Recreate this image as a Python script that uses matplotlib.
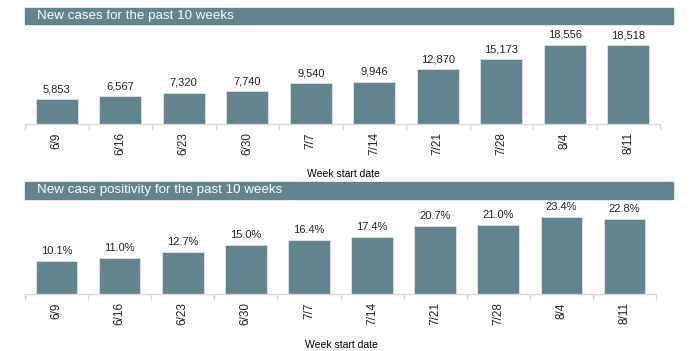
import numpy as np
import matplotlib.pyplot as plt
from matplotlib.patches import Rectangle

plt.rcParams['font.family'] = ['Liberation Sans', 'DejaVu Sans']

# --- data ---
weeks = ['6/9', '6/16', '6/23', '6/30', '7/7', '7/14', '7/21', '7/28', '8/4', '8/11']
new_cases = [5853, 6567, 7320, 7740, 9540, 9946, 12870, 15173, 18556, 18518]
positivity = [10.1, 11.0, 12.7, 15.0, 16.4, 17.4, 20.7, 21.0, 23.4, 22.8]

BAR = '#62848f'
AXIS = '#d9d9d9'
W, H = 700, 351

fig = plt.figure(figsize=(7, 3.51), dpi=100)


def px_axes(x0, x1, ytop, ybot):
    return fig.add_axes([x0 / W, 1 - ybot / H, (x1 - x0) / W, (ybot - ytop) / H])


def banner(y0, y1, text):
    fig.patches.append(Rectangle((25 / W, 1 - y1 / H), (673 - 25) / W, (y1 - y0) / H,
                                 transform=fig.transFigure, color=BAR, zorder=0))
    fig.text(37 / W, 1 - (y0 + y1) / 2 / H, text, color='white', fontsize=9.6,
             va='center', ha='left')


def panel(ax, vals, ymax, fmt):
    x = np.arange(len(vals))
    bars = ax.bar(x, vals, width=0.66, color=BAR, edgecolor='#dfe6e9', linewidth=0.6)
    ax.set_xlim(-0.5, len(vals) - 0.5)
    ax.set_ylim(0, ymax)
    for b, v in zip(bars, vals):
        ax.annotate(fmt(v), (b.get_x() + b.get_width() / 2, v), xytext=(0, 3.5),
                    textcoords='offset points', ha='center', va='bottom',
                    fontsize=8, color='#222222')
    for s in ['top', 'right', 'left']:
        ax.spines[s].set_visible(False)
    ax.spines['bottom'].set_color(AXIS)
    ax.spines['bottom'].set_linewidth(1)
    ax.set_yticks([])
    ax.set_xticks(x)
    ax.set_xticklabels(weeks, rotation=90, fontsize=8.5, color='#222222')
    ax.tick_params(axis='x', which='major', length=0, pad=6)
    ax.set_xticks(np.arange(-0.5, len(vals)), minor=True)
    ax.tick_params(axis='x', which='minor', length=4, color=AXIS, width=1)
    ax.patch.set_alpha(0)


banner(8, 24, 'New cases for the past 10 weeks')
ax1 = px_axes(25, 660, 30, 124)
panel(ax1, new_cases, 22000, lambda v: f'{v:,}')
fig.text(343 / W, 1 - 174 / H, 'Week start date', fontsize=7.5, ha='center', va='center')

banner(182, 199, 'New case positivity for the past 10 weeks')
ax2 = px_axes(25, 656, 202, 294)
panel(ax2, positivity, 28, lambda v: f'{v:.1f}%')
fig.text(341 / W, 1 - 345 / H, 'Week start date', fontsize=7.5, ha='center', va='center')

fig.savefig('out.png', dpi=100)
